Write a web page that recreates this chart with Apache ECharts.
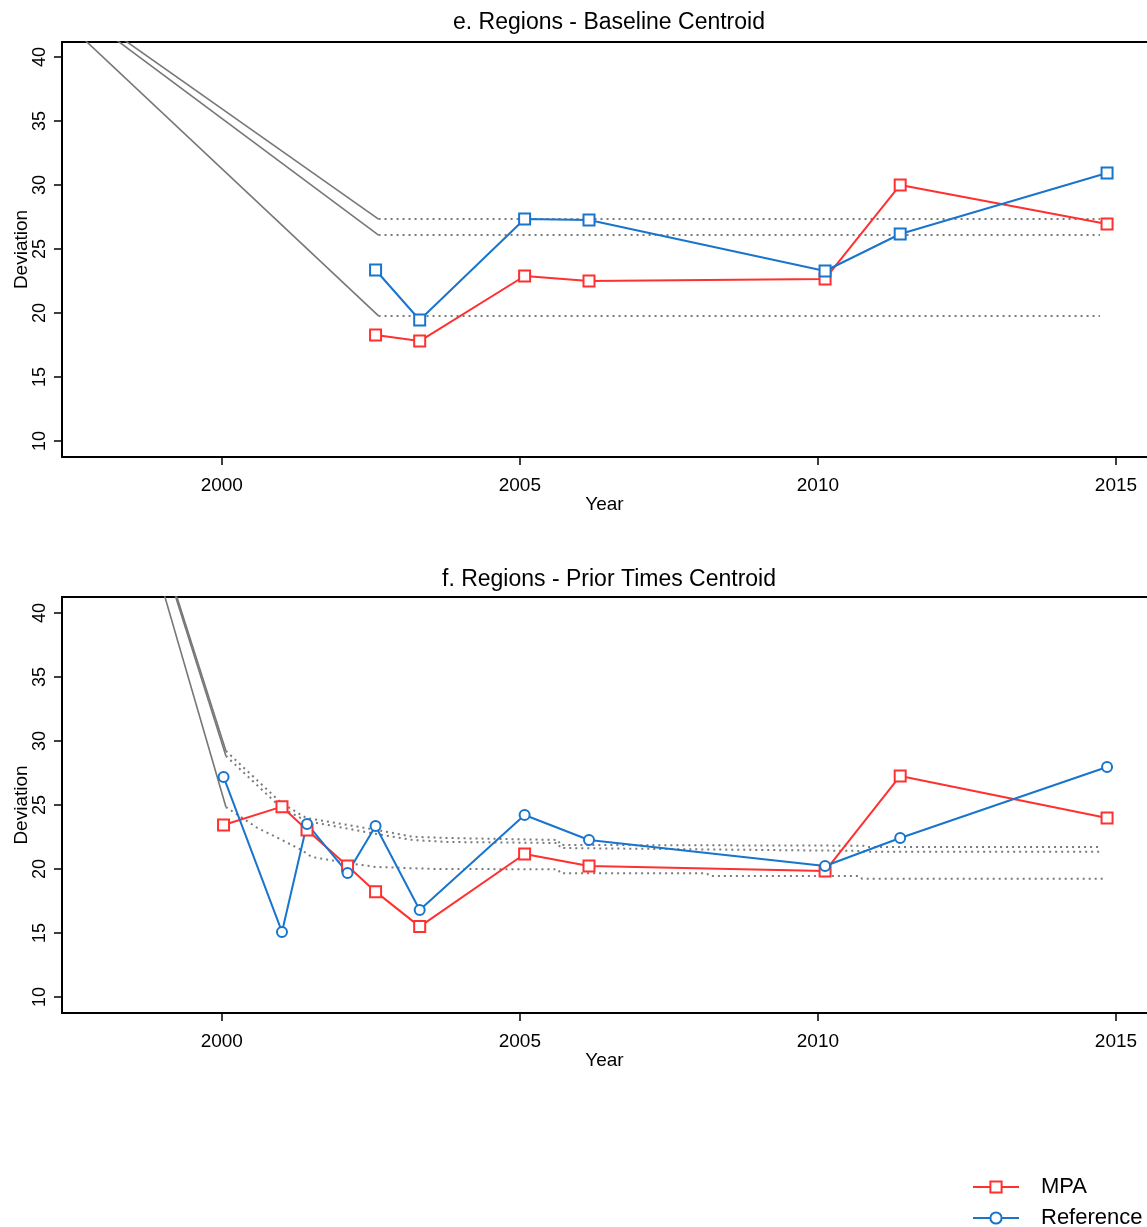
<!DOCTYPE html>
<html>
<head>
<meta charset="utf-8">
<script src="https://cdn.jsdelivr.net/npm/echarts@6/dist/echarts.min.js"></script>
<style>html,body{margin:0;padding:0;background:#fff}#c{width:1147px;height:1227px}</style>
</head>
<body>
<div id="c"></div>
<script>
// ---------- Data ----------
const xTicks = [2000, 2005, 2010, 2015];
const yTicks = [10, 15, 20, 25, 30, 35, 40];

// Panel e: Regions - Baseline Centroid
const eYears = [2002.58, 2003.32, 2005.08, 2006.16, 2010.12, 2011.38, 2014.85];
const eMPA   = [18.28, 17.81, 22.89, 22.50, 22.66, 30.00, 26.95];
const eRef   = [23.36, 19.45, 27.34, 27.27, 23.28, 26.17, 30.94];
// grey reference bands (solid descent then dotted level)
const eBandYears = [1997.0, 2002.63, 2014.73];
const eBandHigh  = [45.8, 27.34, 27.34];
const eBandMid   = [45.6, 26.09, 26.09];
const eBandLow   = [44.4, 19.77, 19.77];

// Panel f: Regions - Prior Times Centroid
const fYears = [2000.03, 2001.01, 2001.43, 2002.11, 2002.58, 2003.32, 2005.08, 2006.16, 2010.12, 2011.38, 2014.85];
const fMPA   = [23.44, 24.87, 23.05, 20.23, 18.23, 15.50, 21.17, 20.23, 19.84, 27.27, 23.98];
const fRef   = [27.19, 15.08, 23.52, 19.69, 23.36, 16.80, 24.22, 22.27, 20.23, 22.42, 27.97];
// grey solid descents
const fSolidYears = [1999.0, 2000.07];
const fSolidA = [44.87, 29.22];
const fSolidB = [44.60, 28.83];
const fSolidC = [42.00, 24.84];
// grey dotted curves
const fDotYearsAB = [2000.07, 2001.0, 2001.42, 2002.6, 2003.2, 2003.8, 2005.64, 2005.68, 2010.76, 2010.8, 2014.73];
const fDotA = [29.22, 25.16, 23.98, 23.05, 22.52, 22.42, 22.27, 21.88, 21.82, 21.72, 21.72];
const fDotB = [28.83, 24.77, 23.75, 22.73, 22.27, 22.11, 22.03, 21.64, 21.41, 21.35, 21.35];
const fDotYearsC = [2000.07, 2000.6, 2001.01, 2001.34, 2001.51, 2002.11, 2002.58, 2003.57, 2005.64, 2005.68, 2008.14, 2008.18, 2010.70, 2010.74, 2014.82];
const fDotC = [24.84, 23.2, 22.27, 21.48, 20.94, 20.47, 20.16, 20.0, 19.98, 19.66, 19.66, 19.45, 19.45, 19.24, 19.24];

// ---------- Styling ----------
const FONT = 'Liberation Sans, Arial, sans-serif';
const RED = '#FF3030';
const BLUE = '#1874CD';
const GREY = '#777777';
const X_MIN = 1997.32, X_MAX = 2015.52;

const zip = (xs, ys) => xs.map((x, i) => [x, ys[i]]);

function xAxisPair(g) {
  return [
    {
      gridIndex: g, type: 'value', min: X_MIN, max: X_MAX,
      name: 'Year', nameLocation: 'middle', nameGap: 38, nameMoveOverlap: false,
      nameTextStyle: { fontSize: 19, color: '#000', fontFamily: FONT },
      axisLine: { show: true, onZero: false, lineStyle: { color: '#000', width: 2 } },
      axisTick: { show: true, inside: false, length: 8, customValues: xTicks, lineStyle: { color: '#000', width: 1.5 } },
      axisLabel: { customValues: xTicks, formatter: v => String(Math.round(v)), margin: 19, fontSize: 19, color: '#000', fontFamily: FONT },
      splitLine: { show: false }
    },
    {
      gridIndex: g, type: 'value', min: X_MIN, max: X_MAX, position: 'top',
      axisLine: { show: true, onZero: false, lineStyle: { color: '#000', width: 2 } },
      axisTick: { show: false }, axisLabel: { show: false }, splitLine: { show: false }
    }
  ];
}
function yAxis(g, max) {
  return {
    gridIndex: g, type: 'value', min: 8.75, max: max,
    name: 'Deviation', nameLocation: 'middle', nameGap: 31, nameRotate: 90, nameMoveOverlap: false,
    nameTextStyle: { fontSize: 19, color: '#000', fontFamily: FONT },
    axisLine: { show: true, onZero: false, lineStyle: { color: '#000', width: 2 } },
    axisTick: { show: true, length: 8, customValues: yTicks, lineStyle: { color: '#000', width: 1.5 } },
    axisLabel: { customValues: yTicks, rotate: 90, margin: 13, fontSize: 18, color: '#000', fontFamily: FONT },
    splitLine: { show: false }
  };
}
function dataSeries(name, xs, ys, xi, yi, symbol, color, size) {
  return {
    name, type: 'line', xAxisIndex: xi, yAxisIndex: yi, data: zip(xs, ys),
    symbol, symbolSize: size, showAllSymbol: true, z: 5,
    itemStyle: { color: color, borderColor: color, borderWidth: 2 },
    lineStyle: { color: color, width: 2 },
    emphasis: { disabled: true }, animation: false
  };
}
function greySeries(xs, ys, xi, yi, dotted) {
  return {
    name: 'band', type: 'line', xAxisIndex: xi, yAxisIndex: yi, data: zip(xs, ys),
    symbol: 'none', z: 2, silent: true, clip: true,
    lineStyle: dotted ? { color: '#7a7a7a', width: 2, type: [2, 4] } : { color: GREY, width: 1.6 },
    animation: false
  };
}

const option = {
  animation: false,
  backgroundColor: '#fff',
  grid: [
    { left: 62, right: 0, top: 42, height: 415, outerBoundsMode: 'none', containLabel: false },
    { left: 62, right: 0, top: 597, height: 416, outerBoundsMode: 'none', containLabel: false }
  ],
  xAxis: [...xAxisPair(0), ...xAxisPair(1)],
  yAxis: [yAxis(0, 41.17), yAxis(1, 41.25)],
  legend: {
    orient: 'vertical', left: 972, bottom: -2, padding: 0,
    itemWidth: 46, itemHeight: 14, itemGap: 9,
    data: ['MPA', 'Reference'],
    textStyle: { fontSize: 22, lineHeight: 22, color: '#000', fontFamily: FONT, padding: [0, 0, 0, 17] }
  },
  graphic: [
    { type: 'text', x: 609, y: 23, style: { text: 'e. Regions - Baseline Centroid', textAlign: 'center', textVerticalAlign: 'middle', font: '23px ' + FONT, fill: '#000' } },
    { type: 'text', x: 609, y: 580, style: { text: 'f. Regions - Prior Times Centroid', textAlign: 'center', textVerticalAlign: 'middle', font: '23px ' + FONT, fill: '#000' } }
  ],
  series: [
    // panel f (listed first so the legend takes its symbols)
    dataSeries('MPA', fYears, fMPA, 2, 1, 'emptyRect', RED, 11),
    dataSeries('Reference', fYears, fRef, 2, 1, 'emptyCircle', BLUE, 10),
    greySeries(fSolidYears, fSolidA, 2, 1, false),
    greySeries(fSolidYears, fSolidB, 2, 1, false),
    greySeries(fSolidYears, fSolidC, 2, 1, false),
    greySeries(fDotYearsAB, fDotA, 2, 1, true),
    greySeries(fDotYearsAB, fDotB, 2, 1, true),
    greySeries(fDotYearsC, fDotC, 2, 1, true),
    // panel e
    dataSeries('MPA', eYears, eMPA, 0, 0, 'emptyRect', RED, 11),
    dataSeries('Reference', eYears, eRef, 0, 0, 'emptyRect', BLUE, 11),
    greySeries(eBandYears.slice(0, 2), eBandHigh.slice(0, 2), 0, 0, false),
    greySeries(eBandYears.slice(0, 2), eBandMid.slice(0, 2), 0, 0, false),
    greySeries(eBandYears.slice(0, 2), eBandLow.slice(0, 2), 0, 0, false),
    greySeries(eBandYears.slice(1), eBandHigh.slice(1), 0, 0, true),
    greySeries(eBandYears.slice(1), eBandMid.slice(1), 0, 0, true),
    greySeries(eBandYears.slice(1), eBandLow.slice(1), 0, 0, true)
  ]
};

const chart = echarts.init(document.getElementById('c'));
chart.setOption(option);
</script>
</body>
</html>
